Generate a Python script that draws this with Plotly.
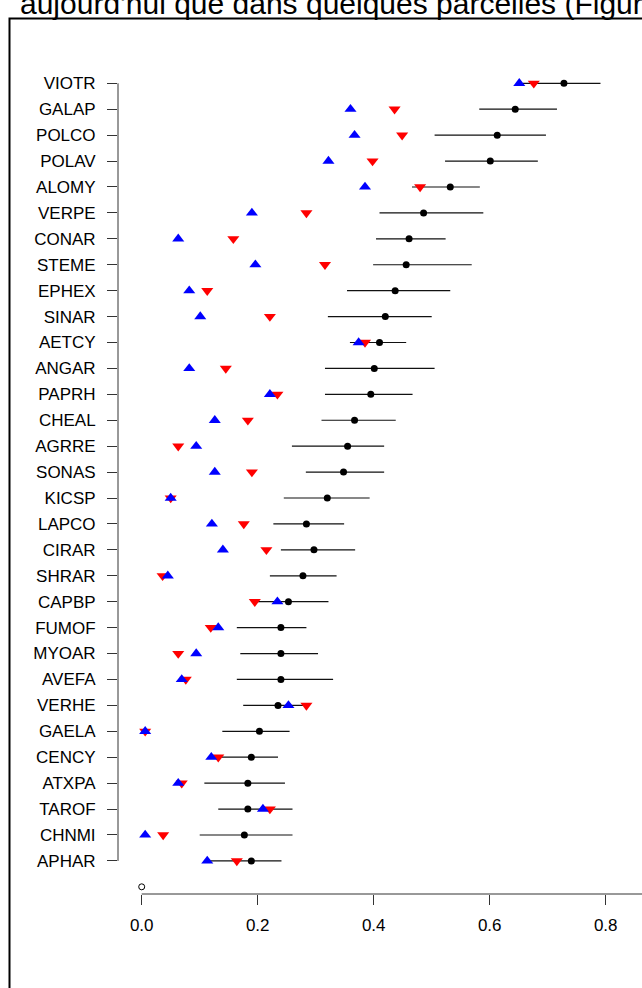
import plotly.graph_objects as go

# ---- data (top to bottom as displayed) ----
species = ["VIOTR", "GALAP", "POLCO", "POLAV", "ALOMY", "VERPE", "CONAR", "STEME",
           "EPHEX", "SINAR", "AETCY", "ANGAR", "PAPRH", "CHEAL", "AGRRE", "SONAS",
           "KICSP", "LAPCO", "CIRAR", "SHRAR", "CAPBP", "FUMOF", "MYOAR", "AVEFA",
           "VERHE", "GAELA", "CENCY", "ATXPA", "TAROF", "CHNMI", "APHAR"]
mean_val = [0.728, 0.644, 0.613, 0.601, 0.532, 0.486, 0.461, 0.456, 0.437, 0.420,
            0.410, 0.401, 0.395, 0.367, 0.355, 0.348, 0.320, 0.284, 0.297, 0.278,
            0.253, 0.240, 0.240, 0.240, 0.235, 0.203, 0.189, 0.183, 0.183, 0.177, 0.189]
ci_low = [0.657, 0.582, 0.505, 0.523, 0.466, 0.410, 0.404, 0.399, 0.354, 0.321,
          0.359, 0.316, 0.316, 0.310, 0.259, 0.283, 0.245, 0.227, 0.240, 0.221,
          0.197, 0.164, 0.170, 0.164, 0.175, 0.139, 0.128, 0.108, 0.132, 0.100, 0.118]
ci_high = [0.791, 0.716, 0.697, 0.683, 0.583, 0.589, 0.524, 0.569, 0.532, 0.500,
           0.456, 0.505, 0.467, 0.438, 0.418, 0.418, 0.393, 0.349, 0.368, 0.336,
           0.322, 0.284, 0.304, 0.330, 0.279, 0.255, 0.235, 0.247, 0.260, 0.260, 0.241]
blue_val = [0.651, 0.360, 0.367, 0.322, 0.385, 0.190, 0.063, 0.196, 0.082, 0.101,
            0.374, 0.082, 0.221, 0.126, 0.094, 0.126, 0.050, 0.121, 0.140, 0.045,
            0.234, 0.132, 0.094, 0.069, 0.253, 0.006, 0.120, 0.063, 0.209, 0.006, 0.113]
red_val = [0.676, 0.436, 0.449, 0.398, 0.480, 0.284, 0.158, 0.316, 0.113, 0.221,
           0.385, 0.145, 0.234, 0.183, 0.063, 0.190, 0.050, 0.176, 0.215, 0.036,
           0.195, 0.119, 0.063, 0.076, 0.284, 0.006, 0.132, 0.069, 0.221, 0.037, 0.164]
extra_point_x = [0.0]
x_ticks = [0.0, 0.2, 0.4, 0.6, 0.8, 1.0]
x_tick_labels = ["0.0", "0.2", "0.4", "0.6", "0.8", "1.0"]
header_text = "aujourd'hui que dans quelques parcelles (Figure"

n = len(species)
ypos = [n - 1 - i for i in range(n)]  # VIOTR at top
extra_point_y = [-1]

W, H = 642, 988
ML, MR, MT, MB = 118, 0, 40, 94
FONT = "Arial, 'Liberation Sans', sans-serif"

fig = go.Figure()

# confidence intervals + central estimate
fig.add_trace(go.Scatter(
    x=mean_val, y=ypos, mode="markers",
    marker=dict(size=7, color="black"),
    error_x=dict(type="data", symmetric=False,
                 array=[h - m for h, m in zip(ci_high, mean_val)],
                 arrayminus=[m - l for m, l in zip(mean_val, ci_low)],
                 width=0, thickness=1.2, color="#111111"),
    showlegend=False, hoverinfo="skip"))

fig.add_trace(go.Scatter(
    x=red_val, y=ypos, mode="markers",
    marker=dict(symbol="triangle-down", size=10.5, color="#FF0000", line=dict(width=0)),
    showlegend=False, hoverinfo="skip"))

fig.add_trace(go.Scatter(
    x=blue_val, y=ypos, mode="markers",
    marker=dict(symbol="triangle-up", size=10.5, color="#0000FF", line=dict(width=0)),
    showlegend=False, hoverinfo="skip"))

fig.add_trace(go.Scatter(
    x=extra_point_x, y=extra_point_y, mode="markers",
    marker=dict(symbol="circle-open", size=6, color="black", line=dict(width=1)),
    showlegend=False, hoverinfo="skip"))

# axis scaling (pixel layout of the original)
px0 = 141.7          # pixel of x = 0
ppu = 580.0          # pixels per unit
x_lo = (ML - px0) / ppu
x_hi = (W - px0) / ppu
py_first = 860.9     # pixel of last category (index 0)
pstep = 25.92
y_lo = (py_first - (H - MB)) / pstep
y_hi = (py_first - MT) / pstep

plot_w = W - ML - MR
plot_h = H - MT - MB

def paper_x(px):
    return (px - ML) / plot_w

def paper_y(py):
    return (H - MB - py) / plot_h

shapes = [
    # y axis line (from first to last category)
    dict(type="line", xref="paper", yref="y", x0=0, x1=0, y0=0, y1=n - 1,
         line=dict(color="#333333", width=1)),
    # x axis line (from first to last tick)
    dict(type="line", xref="x", yref="paper", x0=x_ticks[0], x1=x_ticks[-1], y0=0, y1=0,
         line=dict(color="#333333", width=1)),
    # document frame
    dict(type="rect", xref="paper", yref="paper",
         x0=paper_x(9.5), x1=paper_x(W + 20), y0=paper_y(H + 20), y1=paper_y(18.5),
         line=dict(color="black", width=2), fillcolor="rgba(0,0,0,0)", layer="above"),
]

fig.update_layout(
    width=W, height=H,
    margin=dict(l=ML, r=MR, t=MT, b=MB, pad=0),
    paper_bgcolor="white", plot_bgcolor="white",
    font=dict(family=FONT, size=17, color="black"),
    shapes=shapes,
    title=dict(text=header_text, x=20 / W, xanchor="left", xref="container",
               y=1 - 13.5 / H, yanchor="bottom", yref="container",
               font=dict(family=FONT, size=30, color="black")),
    xaxis=dict(range=[x_lo, x_hi], tickmode="array", tickvals=x_ticks, ticktext=x_tick_labels,
               ticks="outside", ticklen=10, tickwidth=1, tickcolor="#333333",
               showgrid=False, zeroline=False, showline=False,
               tickfont=dict(size=17, family=FONT), ticklabelstandoff=6),
    yaxis=dict(range=[y_lo, y_hi], tickmode="array", tickvals=ypos, ticktext=species,
               ticks="outside", ticklen=10, tickwidth=1, tickcolor="#333333",
               showgrid=False, zeroline=False, showline=False,
               tickfont=dict(size=17, family=FONT), ticklabelstandoff=8),
)

fig.write_html("out.html", config={"displayModeBar": False},
               post_script="document.body.style.margin='0px';")
